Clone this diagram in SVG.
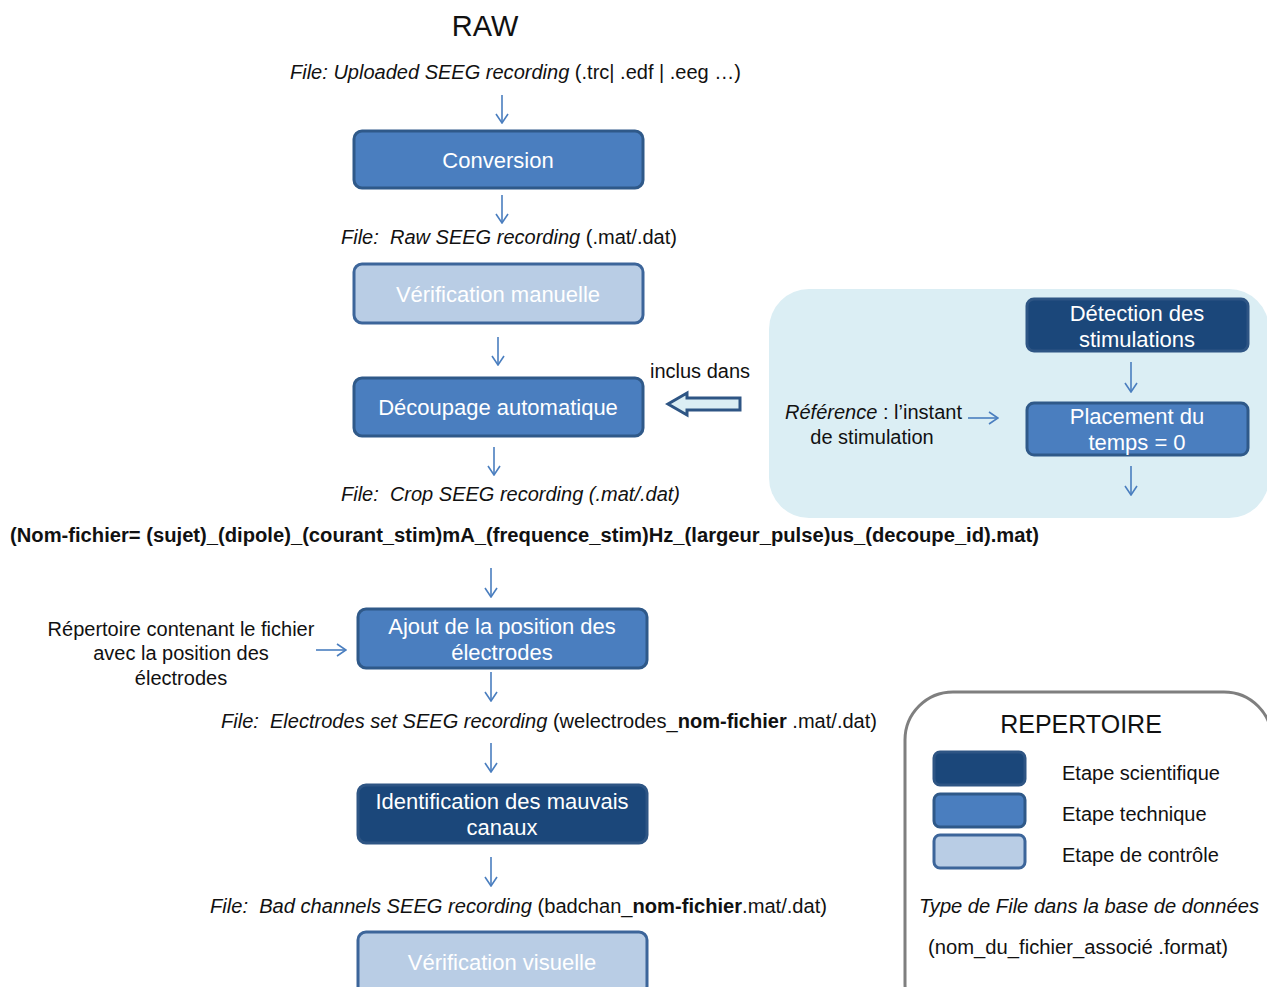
<svg xmlns="http://www.w3.org/2000/svg" width="1267" height="987" viewBox="0 0 1267 987">
<style>
text{font-family:"Liberation Sans",Arial,sans-serif;fill:#111}
.bx{stroke-width:3}
.sci{fill:#1B477A;stroke:#2E5584}
.tec{fill:#4A7EBF;stroke:#2F5989}
.ctl{fill:#B9CDE5;stroke:#3C659A}
.bt{fill:#fff;font-size:22px;text-anchor:middle}
.f{font-size:20px}
.i{font-style:italic}
.b{font-weight:bold}
.c{stroke:#4A7EBF;stroke-width:1.6;fill:none}
</style>
<defs>
<marker id="ar" viewBox="0 0 12 14" refX="11" refY="7" markerWidth="12" markerHeight="14" markerUnits="userSpaceOnUse" orient="auto">
<path d="M2,1 L11,7 L2,13" fill="none" stroke="#4A7EBF" stroke-width="1.6"/>
</marker>
</defs>

<g id="panel">
<rect x="769" y="289" width="500" height="229" rx="40" fill="#DBEEF4"/>
</g>

<g id="title">
<text x="485" y="36" font-size="29" text-anchor="middle">RAW</text>
<text x="290" y="79" class="f" textLength="451" lengthAdjust="spacingAndGlyphs"><tspan class="i">File: Uploaded SEEG recording</tspan> (.trc| .edf | .eeg …)</text>
</g>

<g id="connectors">
<line class="c" x1="502" y1="95" x2="502" y2="123" marker-end="url(#ar)"/>
<line class="c" x1="502" y1="195" x2="502" y2="223" marker-end="url(#ar)"/>
<line class="c" x1="498" y1="337" x2="498" y2="365" marker-end="url(#ar)"/>
<line class="c" x1="494" y1="447" x2="494" y2="475" marker-end="url(#ar)"/>
<line class="c" x1="491" y1="568" x2="491" y2="597" marker-end="url(#ar)"/>
<line class="c" x1="491" y1="672" x2="491" y2="701" marker-end="url(#ar)"/>
<line class="c" x1="491" y1="743" x2="491" y2="772" marker-end="url(#ar)"/>
<line class="c" x1="491" y1="857" x2="491" y2="886" marker-end="url(#ar)"/>
<line class="c" x1="316" y1="650" x2="346" y2="650" marker-end="url(#ar)"/>
<line class="c" x1="1131" y1="362" x2="1131" y2="392" marker-end="url(#ar)"/>
<line class="c" x1="1131" y1="466" x2="1131" y2="495" marker-end="url(#ar)"/>
<line class="c" x1="968" y1="418" x2="998" y2="418" marker-end="url(#ar)"/>
<path id="block-arrow" d="M740,398 L687,398 L687,393 L668,404 L687,415 L687,410 L740,410 Z" fill="#DBEEF4" stroke="#2E5584" stroke-width="3" stroke-linejoin="miter"/>
</g>

<g id="n-conversion">
<rect class="bx tec" x="354" y="131" width="289" height="57" rx="8"/>
<text class="bt" x="498" y="168">Conversion</text>
</g>
<text x="341" y="244" class="f" textLength="336" lengthAdjust="spacingAndGlyphs"><tspan class="i">File:&#160; Raw SEEG recording</tspan> (.mat/.dat)</text>

<g id="n-verif-manuelle">
<rect class="bx ctl" x="354" y="264" width="289" height="59" rx="8"/>
<text class="bt" x="498" y="302">Vérification manuelle</text>
</g>

<g id="n-decoupage">
<rect class="bx tec" x="354" y="378" width="289" height="58" rx="8"/>
<text class="bt" x="498" y="415">Découpage automatique</text>
</g>
<text x="650" y="378" class="f" textLength="100" lengthAdjust="spacingAndGlyphs">inclus dans</text>
<text x="341" y="501" class="f i" textLength="339" lengthAdjust="spacingAndGlyphs">File:&#160; Crop SEEG recording (.mat/.dat)</text>
<text x="10" y="542" class="f b" textLength="1029" lengthAdjust="spacingAndGlyphs">(Nom-fichier= (sujet)_(dipole)_(courant_stim)mA_(frequence_stim)Hz_(largeur_pulse)us_(decoupe_id).mat)</text>

<g id="n-ajout">
<rect class="bx tec" x="358" y="609" width="289" height="59" rx="8"/>
<text class="bt" x="502" y="634">Ajout de la position des</text>
<text class="bt" x="502" y="660">électrodes</text>
</g>
<g id="t-repertoire-fichier" font-size="20" text-anchor="middle">
<text x="181" y="636">Répertoire contenant le fichier</text>
<text x="181" y="660">avec la position des</text>
<text x="181" y="685">électrodes</text>
</g>
<text x="221" y="728" class="f" textLength="656" lengthAdjust="spacingAndGlyphs"><tspan class="i">File:&#160; Electrodes set SEEG recording</tspan> (welectrodes_<tspan class="b">nom-fichier</tspan> .mat/.dat)</text>

<g id="n-identification">
<rect class="bx sci" x="358" y="785" width="289" height="58" rx="8"/>
<text class="bt" x="502" y="809">Identification des mauvais</text>
<text class="bt" x="502" y="835">canaux</text>
</g>
<text x="210" y="913" class="f" textLength="617" lengthAdjust="spacingAndGlyphs"><tspan class="i">File:&#160; Bad channels SEEG recording</tspan> (badchan_<tspan class="b">nom-fichier</tspan>.mat/.dat)</text>

<g id="n-verif-visuelle">
<rect class="bx ctl" x="358" y="932" width="289" height="62" rx="8"/>
<text class="bt" x="502" y="970">Vérification visuelle</text>
</g>

<g id="n-detection">
<rect class="bx sci" x="1027" y="299" width="221" height="52" rx="7"/>
<text class="bt" x="1137" y="321">Détection des</text>
<text class="bt" x="1137" y="347">stimulations</text>
</g>
<g id="n-placement">
<rect class="bx tec" x="1027" y="403" width="221" height="52" rx="7"/>
<text class="bt" x="1137" y="424">Placement du</text>
<text class="bt" x="1137" y="450">temps = 0</text>
</g>
<g id="t-reference" font-size="20">
<text x="785" y="419" textLength="177" lengthAdjust="spacingAndGlyphs"><tspan class="i">Référence</tspan> : l’instant</text>
<text x="872" y="444" text-anchor="middle">de stimulation</text>
</g>

<g id="legend">
<rect x="905" y="692" width="367" height="340" rx="48" fill="#fff" stroke="#7F7F7F" stroke-width="3"/>
<text x="1081" y="733" font-size="25" text-anchor="middle">REPERTOIRE</text>
<rect class="bx sci" x="934" y="752" width="91" height="33" rx="6"/>
<rect class="bx tec" x="934" y="794" width="91" height="33" rx="6"/>
<rect class="bx ctl" x="934" y="835" width="91" height="33" rx="6"/>
<text x="1062" y="780" class="f">Etape scientifique</text>
<text x="1062" y="821" class="f">Etape technique</text>
<text x="1062" y="862" class="f">Etape de contrôle</text>
<text x="919" y="913" class="f i" textLength="340" lengthAdjust="spacingAndGlyphs">Type de File dans la base de données</text>
<text x="928" y="954" class="f" textLength="300" lengthAdjust="spacingAndGlyphs">(nom_du_fichier_associé .format)</text>
</g>
</svg>
